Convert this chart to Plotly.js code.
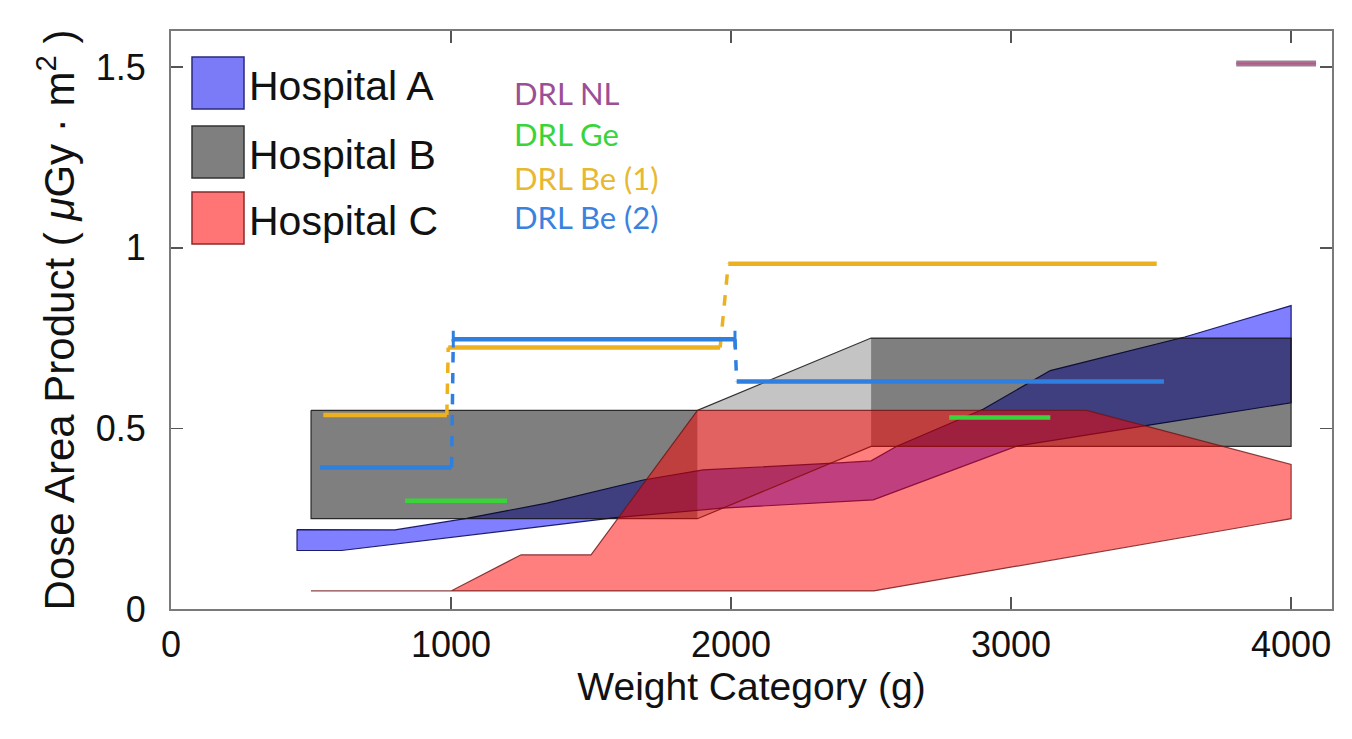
<!DOCTYPE html>
<html><head><meta charset="utf-8">
<script src="https://cdn.plot.ly/plotly-3.0.1.min.js"></script>
<style>html,body{margin:0;padding:0;background:#fff;} #chart{width:1352px;height:739px;}</style>
</head><body><div id="chart"></div>
<script>
// ---------- data ----------
// Hospital A band (upper and lower edges)
const hospA_topX = [450, 640, 800, 1056, 1342, 1686, 1900, 2400, 2500, 2590, 2900, 3140, 3620, 4000];
const hospA_topY = [0.22, 0.22, 0.219, 0.251, 0.293, 0.357, 0.385, 0.405, 0.41, 0.45, 0.553, 0.66, 0.753, 0.84];
const hospA_botX = [450, 609, 1579, 1967, 2508, 3020, 3470, 4000];
const hospA_botY = [0.162, 0.162, 0.252, 0.279, 0.302, 0.451, 0.506, 0.571];

// Hospital B band
const hospB_x  = [500, 1880, 2500, 4000];
const hospB_lo = [0.25, 0.25, 0.45, 0.45];
const hospB_hi = [0.55, 0.55, 0.75, 0.75];

// Hospital C band
const hospC_topX = [500, 1000, 1250, 1500, 1880, 3270, 4000];
const hospC_topY = [0.05, 0.05, 0.15, 0.15, 0.55, 0.55, 0.40];
const hospC_botX = [500, 2510, 4000];
const hospC_botY = [0.05, 0.05, 0.25];

// DRL reference levels (step lines)
const drlBe1_x = [544, 985, 990, 1961, 1990, 3520];
const drlBe1_y = [0.537, 0.537, 0.724, 0.724, 0.956, 0.956];
const drlBe2_x = [532, 1002, 1008, 2014, 2020, 3546];
const drlBe2_y = [0.392, 0.392, 0.747, 0.747, 0.63, 0.63];
const drlGe_x0 = [836, 2779];
const drlGe_x1 = [1200, 3140];
const drlGe_y  = [0.30, 0.53];
const drlNL_x0 = [3804];
const drlNL_x1 = [4089];
const drlNL_y  = [1.51];

const xTicks = [0, 1000, 2000, 3000, 4000];
const yTicks = [0, 0.5, 1, 1.5];
const yTickText = ['0', '0.5', '1', '1.5'];

const hospNames = ['Hospital A', 'Hospital B', 'Hospital C'];
const drlNames = ['DRL NL', 'DRL Ge', 'DRL Be (1)', 'DRL Be (2)'];

// ---------- styles ----------
const C_BLUE_FILL = 'rgba(0,0,255,0.5)';
const C_BLUE_EDGE = 'rgba(10,10,90,0.9)';
const C_GRAY_DARK = 'rgba(0,0,0,0.5)';
const C_GRAY_LIGHT = 'rgba(0,0,0,0.23)';
const C_GRAY_EDGE = 'rgba(20,20,20,0.85)';
const C_RED_FILL = 'rgba(255,0,0,0.5)';
const C_RED_EDGE = 'rgba(110,20,20,0.8)';
const C_BE1 = '#EDB120';
const C_BE2 = '#2f7fe0';
const C_GE = '#3ad43a';
const C_NL = '#d9449a';

const traces = [];

function band(topX, topY, botX, botY) {
  const x = topX.concat(botX.slice().reverse());
  const y = topY.concat(botY.slice().reverse());
  x.push(x[0]); y.push(y[0]);
  return {x, y};
}

// Hospital A
const a = band(hospA_topX, hospA_topY, hospA_botX, hospA_botY);
traces.push({x: a.x, y: a.y, type: 'scatter', mode: 'lines', fill: 'toself',
  fillcolor: C_BLUE_FILL, line: {color: C_BLUE_EDGE, width: 1.2}, hoverinfo: 'skip'});

// Hospital B pieces
for (let i = 0; i < hospB_x.length - 1; i++) {
  const flat = hospB_lo[i] === hospB_lo[i + 1];
  traces.push({
    x: [hospB_x[i], hospB_x[i + 1], hospB_x[i + 1], hospB_x[i], hospB_x[i]],
    y: [hospB_hi[i], hospB_hi[i + 1], hospB_lo[i + 1], hospB_lo[i], hospB_hi[i]],
    type: 'scatter', mode: 'lines', fill: 'toself',
    fillcolor: flat ? C_GRAY_DARK : C_GRAY_LIGHT, line: {width: 0}, hoverinfo: 'skip'});
}
const b = band(hospB_x, hospB_hi, hospB_x, hospB_lo);
traces.push({x: b.x, y: b.y, type: 'scatter', mode: 'lines',
  line: {color: C_GRAY_EDGE, width: 1.2}, hoverinfo: 'skip'});

// Hospital C
const c = band(hospC_topX, hospC_topY, hospC_botX, hospC_botY);
traces.push({x: c.x, y: c.y, type: 'scatter', mode: 'lines', fill: 'toself',
  fillcolor: C_RED_FILL, line: {color: C_RED_EDGE, width: 1.2}, hoverinfo: 'skip'});

// DRL step lines
function stepLine(xs, ys, color, markEnds) {
  for (let i = 0; i < xs.length - 1; i++) {
    const horiz = (i % 2 === 0);
    traces.push({x: [xs[i], xs[i + 1]], y: [ys[i], ys[i + 1]], type: 'scatter', mode: 'lines',
      line: {color: color, width: horiz ? 4.5 : 3.5, dash: horiz ? 'solid' : 'dash'}, hoverinfo: 'skip'});
  }
  if (markEnds) {
    traces.push({x: [xs[2], xs[3]], y: [ys[2], ys[3]], type: 'scatter', mode: 'markers',
      marker: {symbol: 'line-ns-open', size: 12, color: color, line: {color: color, width: 3}}, hoverinfo: 'skip'});
  }
}
stepLine(drlBe1_x, drlBe1_y, C_BE1, false);
stepLine(drlBe2_x, drlBe2_y, C_BE2, true);

for (let i = 0; i < drlGe_y.length; i++) {
  traces.push({x: [drlGe_x0[i], drlGe_x1[i]], y: [drlGe_y[i], drlGe_y[i]], type: 'scatter', mode: 'lines',
    line: {color: C_GE, width: 4.5}, hoverinfo: 'skip'});
}
for (let i = 0; i < drlNL_y.length; i++) {
  traces.push({x: [drlNL_x0[i], drlNL_x1[i]], y: [drlNL_y[i], drlNL_y[i]], type: 'scatter', mode: 'lines',
    line: {color: '#8a8a8a', width: 6}, hoverinfo: 'skip'});
  traces.push({x: [drlNL_x0[i], drlNL_x1[i]], y: [drlNL_y[i], drlNL_y[i]], type: 'scatter', mode: 'lines',
    line: {color: C_NL, width: 2}, hoverinfo: 'skip'});
}

// ---------- legend (drawn as layout shapes + annotations) ----------
const W = 1352, H = 739, L = 171, R = 20, T = 31, B = 130;
const pw = W - L - R, ph = H - T - B;
const px2x = p => (p - L) / pw;
const px2y = p => (H - B - p) / ph;

const swatchFill = ['#7b7bf7', '#7f7f7f', '#ff7474'];
const swatchEdge = ['#2a2a80', '#333333', '#8a2a2a'];
const swatchTop = [57, 126, 192];
const shapes = [], annotations = [];
for (let i = 0; i < 3; i++) {
  shapes.push({type: 'rect', xref: 'paper', yref: 'paper',
    x0: px2x(192), x1: px2x(244), y0: px2y(swatchTop[i] + 52), y1: px2y(swatchTop[i]),
    fillcolor: swatchFill[i], line: {color: swatchEdge[i], width: 1.5}});
  annotations.push({xref: 'paper', yref: 'paper', x: px2x(247), y: px2y(swatchTop[i] + 29),
    xanchor: 'left', yanchor: 'middle', showarrow: false, text: hospNames[i],
    font: {family: 'Liberation Sans, Arial, sans-serif', size: 41, color: '#111'}});
}
const drlColors = ['#9b4f96', '#3ad43a', '#e8b830', '#3a82e0'];
const drlY = [91, 132, 176, 215];
for (let i = 0; i < 4; i++) {
  annotations.push({xref: 'paper', yref: 'paper', x: px2x(512), y: px2y(drlY[i] + 2),
    xanchor: 'left', yanchor: 'middle', showarrow: false, text: drlNames[i],
    font: {family: 'Lato, sans-serif', size: 31, color: drlColors[i]}});
}

const tickFont = {family: 'Liberation Sans, Arial, sans-serif', size: 36, color: '#111'};
const layout = {
  width: W, height: H,
  margin: {l: L, r: R, t: T, b: B, pad: 0},
  paper_bgcolor: '#ffffff', plot_bgcolor: '#ffffff',
  showlegend: false,
  xaxis: {range: [0, 4146], tickvals: xTicks, ticks: 'inside', ticklen: 12, tickwidth: 1.5, tickcolor: '#555',
    showline: true, linecolor: '#7a7a7a', linewidth: 2, mirror: 'ticks', showgrid: false, zeroline: false,
    tickfont: tickFont, ticklabelstandoff: 3,
    title: {text: 'Weight Category (g)', font: {family: 'Liberation Sans, Arial, sans-serif', size: 39, color: '#111'}, standoff: 2}},
  yaxis: {range: [0, 1.6], tickvals: yTicks, ticktext: yTickText, ticks: 'inside', ticklen: 12, tickwidth: 1.5, tickcolor: '#555',
    showline: true, linecolor: '#7a7a7a', linewidth: 2, mirror: 'ticks', showgrid: false, zeroline: false,
    tickfont: tickFont, ticklabelstandoff: 16,
    title: {text: 'Dose Area Product ( <i>μ</i>Gy · m<sup>2</sup> )', font: {family: 'Liberation Sans, Arial, sans-serif', size: 42, color: '#111'}, standoff: 8}},
  shapes: shapes,
  annotations: annotations
};

Plotly.newPlot('chart', traces, layout, {displayModeBar: false, staticPlot: true});
</script>
</body></html>
